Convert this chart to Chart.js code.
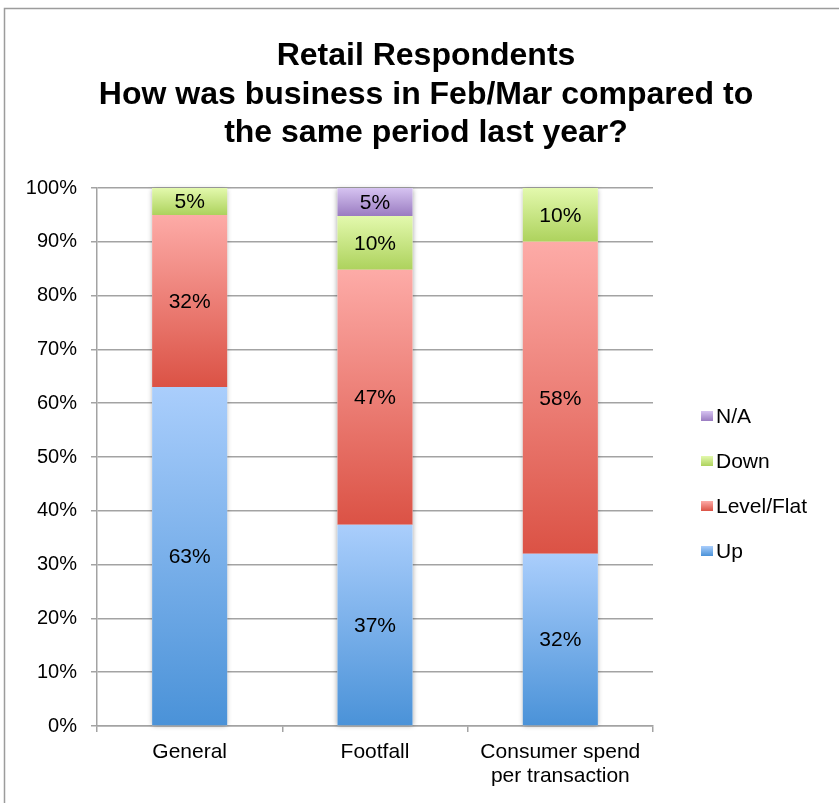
<!DOCTYPE html>
<html>
<head>
<meta charset="utf-8">
<script src="https://cdn.jsdelivr.net/npm/chart.js@4"></script>
<style>
  html, body { margin: 0; padding: 0; background: #fff; overflow: hidden; }
  #wrap { position: relative; width: 839px; height: 803px; }
</style>
</head>
<body>
<div id="wrap"><canvas id="c" width="839" height="803"></canvas></div>
<script>
// ---- data ----
const categories = ['General', 'Footfall', ['Consumer spend', 'per transaction']];
const seriesNames = ['Up', 'Level/Flat', 'Down', 'N/A'];
const upValues    = [63, 37.4, 32];
const levelValues = [32, 47.4, 58];
const downValues  = [5, 10, 10];
const naValues    = [0, 5.2, 0];
const titleLines = ['Retail Respondents', 'How was business in Feb/Mar compared to', 'the same period last year?'];

// ---- styles ----
const gradTop    = ['#aacefc', '#fdaba7', '#e3f9ad', '#d6c3f1'];
const gradBottom = ['#4a92d8', '#db5245', '#add25d', '#9a7cc1'];
const FONT = "'Liberation Sans', Arial, Helvetica, sans-serif";
const GRID = '#a3a3a3';

function segGradient(c, i) {
  if (c.type !== 'data') return gradBottom[i];
  const chart = c.chart, ys = chart.scales.y;
  if (!ys) return gradBottom[i];
  let start = 0;
  for (let d = 0; d < c.datasetIndex; d++) start += chart.data.datasets[d].data[c.dataIndex];
  const end = start + chart.data.datasets[c.datasetIndex].data[c.dataIndex];
  const y0 = ys.getPixelForValue(end), y1 = ys.getPixelForValue(start);
  if (!isFinite(y0) || !isFinite(y1) || y1 - y0 < 1) return gradBottom[i];
  const g = chart.ctx.createLinearGradient(0, y0, 0, y1);
  g.addColorStop(0, gradTop[i]);
  g.addColorStop(1, gradBottom[i]);
  return g;
}

const valueSets = [upValues, levelValues, downValues, naValues];
const datasets = seriesNames.map((name, i) => ({
  label: name,
  data: valueSets[i],
  backgroundColor: (c) => segGradient(c, i),
  borderWidth: 0,
  categoryPercentage: 1.0,
  barPercentage: 0.405
}));

const framePlugin = {
  id: 'frame',
  beforeDraw(chart) {
    const ctx = chart.ctx;
    ctx.save();
    ctx.strokeStyle = '#9c9c9c';
    ctx.lineWidth = 1.5;
    ctx.beginPath();
    ctx.moveTo(4.5, chart.height + 5);
    ctx.lineTo(4.5, 8.5);
    ctx.lineTo(chart.width + 5, 8.5);
    ctx.stroke();
    ctx.restore();
  }
};

const shadowPlugin = {
  id: 'barShadow',
  beforeDatasetsDraw(chart) {
    const ctx = chart.ctx;
    const metas = chart.data.datasets.map((d, i) => chart.getDatasetMeta(i));
    const n = chart.data.labels.length;
    ctx.save();
    ctx.shadowColor = 'rgba(0,0,0,0.35)';
    ctx.shadowBlur = 5;
    ctx.shadowOffsetX = 0;
    ctx.shadowOffsetY = 1;
    ctx.fillStyle = '#ffffff';
    for (let j = 0; j < n; j++) {
      const base = metas[0].data[j];
      let top = base.base;
      metas.forEach(m => { const el = m.data[j]; if (el && el.y < top) top = el.y; });
      ctx.fillRect(base.x - base.width / 2, top, base.width, base.base - top);
    }
    ctx.restore();
  }
};

const labelPlugin = {
  id: 'segLabels',
  afterDatasetsDraw(chart) {
    const ctx = chart.ctx;
    ctx.save();
    ctx.font = '21px ' + FONT;
    ctx.fillStyle = '#000';
    ctx.textAlign = 'center';
    ctx.textBaseline = 'middle';
    chart.data.datasets.forEach((ds, i) => {
      const meta = chart.getDatasetMeta(i);
      meta.data.forEach((el, j) => {
        const v = ds.data[j];
        if (!v) return;
        ctx.fillText(Math.round(v) + '%', el.x, (el.y + el.base) / 2 + 1);
      });
    });
    ctx.restore();
  }
};

const legendPlugin = {
  id: 'sideLegend',
  afterDraw(chart) {
    const ctx = chart.ctx;
    const ca = chart.chartArea;
    const x = ca.right + 48;
    const y0 = 416, step = 45;
    ctx.save();
    ctx.font = '21px ' + FONT;
    ctx.textBaseline = 'middle';
    ctx.textAlign = 'left';
    const ds = chart.data.datasets;
    for (let k = 0; k < ds.length; k++) {
      const i = ds.length - 1 - k;
      const cy = y0 + k * step;
      const g = ctx.createLinearGradient(0, cy - 5, 0, cy + 5);
      g.addColorStop(0, gradTop[i]);
      g.addColorStop(1, gradBottom[i]);
      ctx.fillStyle = g;
      ctx.fillRect(x, cy - 5, 12, 10);
      ctx.fillStyle = '#000';
      ctx.fillText(ds[i].label, x + 15, cy + 1);
    }
    ctx.restore();
  }
};

new Chart(document.getElementById('c'), {
  type: 'bar',
  data: { labels: categories, datasets: datasets },
  options: {
    responsive: false,
    animation: false,
    events: [],
    layout: { padding: { left: 13, right: 0, top: 0, bottom: 0 }, autoPadding: false },
    plugins: {
      legend: { display: false },
      tooltip: { enabled: false },
      title: {
        display: true,
        text: titleLines,
        color: '#000',
        font: { family: FONT, size: 32, weight: 'bold', lineHeight: 1.2 },
        padding: { top: 37.3, bottom: 35.5 }
      }
    },
    scales: {
      x: {
        stacked: true,
        grid: { display: true, drawOnChartArea: false, drawTicks: true, tickLength: 6, offset: true, color: GRID, lineWidth: 1.5 },
        border: { display: true, color: GRID, width: 1.5 },
        ticks: { color: '#000', font: { family: FONT, size: 21, lineHeight: 1.15 }, padding: 8, maxRotation: 0, autoSkip: false },
        afterFit(s) { s.height = 77; }
      },
      y: {
        stacked: true,
        min: 0, max: 100,
        grid: { color: GRID, lineWidth: 1.5, tickLength: 6, drawTicks: true },
        border: { display: true, color: GRID, width: 1.5 },
        ticks: { stepSize: 10, color: '#000', font: { family: FONT, size: 20 }, padding: 14, callback: v => v + '%' },
        afterFit(s) { s.width = 84; }
      },
      legendSpace: {
        type: 'linear',
        position: 'right',
        display: true,
        grid: { display: false, drawTicks: false },
        border: { display: false },
        ticks: { display: false },
        afterFit(s) { s.width = 186; }
      }
    }
  },
  plugins: [framePlugin, shadowPlugin, labelPlugin, legendPlugin]
});
</script>
</body>
</html>
